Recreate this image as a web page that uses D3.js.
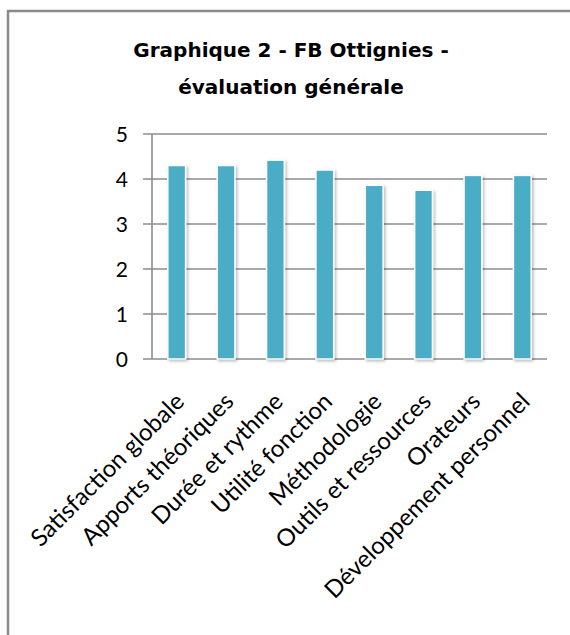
<!DOCTYPE html>
<html>
<head>
<meta charset="utf-8">
<script src="https://cdn.jsdelivr.net/npm/d3@7"></script>
<style>
  html, body { margin: 0; padding: 0; background: #fff; }
  svg { display: block; }
</style>
</head>
<body>
<script>
// data
const categories = ["Satisfaction globale", "Apports théoriques", "Durée et rythme", "Utilité fonction",
                    "Méthodologie", "Outils et ressources", "Orateurs", "Développement personnel"];
const scores = [4.3, 4.3, 4.42, 4.2, 3.86, 3.75, 4.08, 4.08];
const yTicks = [0, 1, 2, 3, 4, 5];
const titleLines = ["Graphique 2 - FB Ottignies -", "évaluation générale"];

const width = 570, height = 635;
const plot = {left: 152, right: 547, top: 134, bottom: 359};

const svg = d3.select("body").append("svg")
    .attr("width", width)
    .attr("height", height);

const defs = svg.append("defs");
const shadow = defs.append("filter").attr("id", "shadow")
    .attr("x", "-50%").attr("y", "-10%").attr("width", "200%").attr("height", "120%");
shadow.append("feDropShadow")
    .attr("dx", 1.5).attr("dy", 1.5).attr("stdDeviation", 1.8)
    .attr("flood-color", "#000").attr("flood-opacity", 0.28);

// outer frame (cut off by the window on the right / bottom)
svg.append("path")
    .attr("d", `M8,${height + 5} V11 H${width + 5}`)
    .attr("fill", "none")
    .attr("stroke", "#8a8a8a")
    .attr("stroke-width", 2.5);

// title
svg.append("g")
    .selectAll("text")
    .data(titleLines)
    .enter().append("text")
    .attr("x", 291)
    .attr("y", (d, i) => 57 + i * 37)
    .attr("text-anchor", "middle")
    .style("font", "bold 20px 'DejaVu Sans', sans-serif")
    .style("fill", "#000")
    .text(d => d);

const x = d3.scaleBand()
    .domain(categories)
    .range([plot.left, plot.right])
    .paddingInner(0.64)
    .paddingOuter(0.32);

const y = d3.scaleLinear()
    .domain([0, 5])
    .range([plot.bottom, plot.top]);

// gridlines + ticks
const grid = svg.append("g");
grid.selectAll("line")
    .data(yTicks)
    .enter().append("line")
    .attr("x1", plot.left - 9)
    .attr("x2", plot.right)
    .attr("y1", d => y(d))
    .attr("y2", d => y(d))
    .attr("stroke", "#8c8c8c")
    .attr("stroke-width", 1.6);

// y axis line
svg.append("line")
    .attr("x1", plot.left).attr("x2", plot.left)
    .attr("y1", y(5)).attr("y2", y(0))
    .attr("stroke", "#8c8c8c")
    .attr("stroke-width", 1.6);

svg.append("g")
    .selectAll("text")
    .data(yTicks)
    .enter().append("text")
    .attr("x", 128)
    .attr("y", d => y(d))
    .attr("dy", "0.36em")
    .attr("text-anchor", "end")
    .style("font", "21px Lato, sans-serif")
    .style("fill", "#000")
    .text(d => d);

// bars
svg.append("g")
    .selectAll("rect")
    .data(scores)
    .enter().append("rect")
    .attr("x", (d, i) => x(categories[i]))
    .attr("y", d => y(d))
    .attr("width", x.bandwidth())
    .attr("height", d => y(0) - y(d))
    .attr("fill", "#4bacc6")
    .attr("stroke", "#fff")
    .attr("stroke-width", 1.5)
    .attr("filter", "url(#shadow)");

// category labels
svg.append("g")
    .selectAll("text")
    .data(categories)
    .enter().append("text")
    .attr("transform", d => `translate(${x(d) + x.bandwidth() / 2 + 9},${plot.bottom + 44}) rotate(-45)`)
    .attr("text-anchor", "end")
    .style("font", "24px Lato, sans-serif")
    .style("fill", "#000")
    .text(d => d);
</script>
</body>
</html>
